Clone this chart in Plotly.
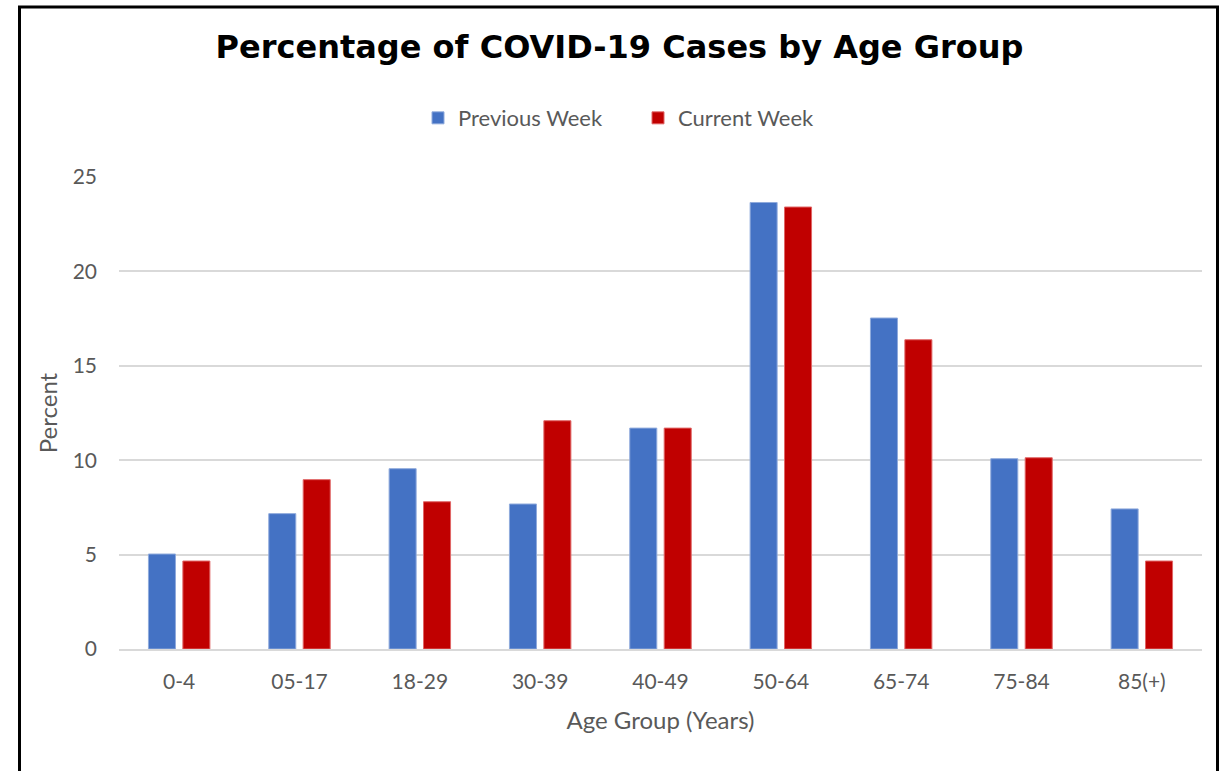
import plotly.graph_objects as go

categories = ["0-4", "05-17", "18-29", "30-39", "40-49", "50-64", "65-74", "75-84", "85(+)"]
previous_week = [5.03, 7.17, 9.55, 7.68, 11.70, 23.65, 17.53, 10.08, 7.42]
current_week = [4.66, 8.97, 7.80, 12.09, 11.70, 23.41, 16.38, 10.13, 4.66]
y_ticks = [0, 5, 10, 15, 20, 25]

W, H = 1225, 771
L, R, T, B = 119, 23, 177, 121.7
pw, ph = W - L - R, H - T - B

def px_x(p):
    return (p - L) / pw

def px_y(p):
    return (H - B - p) / ph

fig = go.Figure()
fig.add_trace(go.Bar(
    x=categories, y=previous_week, name="Previous Week",
    marker=dict(color="#4472C4", line=dict(color="#8FAADC", width=1)),
))
fig.add_trace(go.Bar(
    x=categories, y=current_week, name="Current Week",
    marker=dict(color="#C00000", line=dict(color="#E06666", width=1)),
))

font_main = "Lato, 'Open Sans', sans-serif"

fig.update_layout(
    width=W, height=H,
    margin=dict(l=L, r=R, t=T, b=B),
    paper_bgcolor="white", plot_bgcolor="white",
    barmode="group", bargap=0.428, bargroupgap=0.215,
    title=dict(
        text="<b>Percentage of COVID-19 Cases by Age Group</b>",
        font=dict(family="DejaVu Sans", size=32, color="black"),
        x=px_x(619.5), xref="paper", xanchor="center",
        y=1 - 47 / H, yref="container", yanchor="middle",
    ),
    legend=dict(
        orientation="h", x=px_x(418), xanchor="left",
        y=px_y(118), yanchor="middle",
        font=dict(family=font_main, size=22, color="#595959"),
        itemwidth=30, traceorder="normal",
        entrywidth=175, entrywidthmode="pixels",
    ),
    font=dict(family=font_main, color="#595959", size=21),
    xaxis=dict(
        showgrid=False, showline=True, linecolor="#D9D9D9", linewidth=1.5,
        ticks="", tickfont=dict(size=21, color="#595959"), ticklabelstandoff=13,
        title=dict(text="Age Group (Years)", font=dict(size=24, color="#595959"), standoff=20),
    ),
    yaxis=dict(
        range=[0, 25], tickvals=y_ticks, showgrid=True, gridcolor="#D9D9D9", gridwidth=1.5,
        zeroline=False, showline=False, ticks="",
        tickfont=dict(size=21, color="#595959"), ticklabelstandoff=21,
        title=dict(text="Percent", font=dict(size=24, color="#595959"), standoff=8),
    ),
    shapes=[dict(
        type="rect", xref="paper", yref="paper",
        x0=px_x(19.5), x1=px_x(1217.5), y0=px_y(790), y1=px_y(7),
        line=dict(color="black", width=3), fillcolor="rgba(0,0,0,0)", layer="above",
    )],
)

fig.write_html(
    "out.html",
    config={"displayModeBar": False},
    post_script="document.body.style.margin='0';document.body.style.overflow='hidden';",
)
